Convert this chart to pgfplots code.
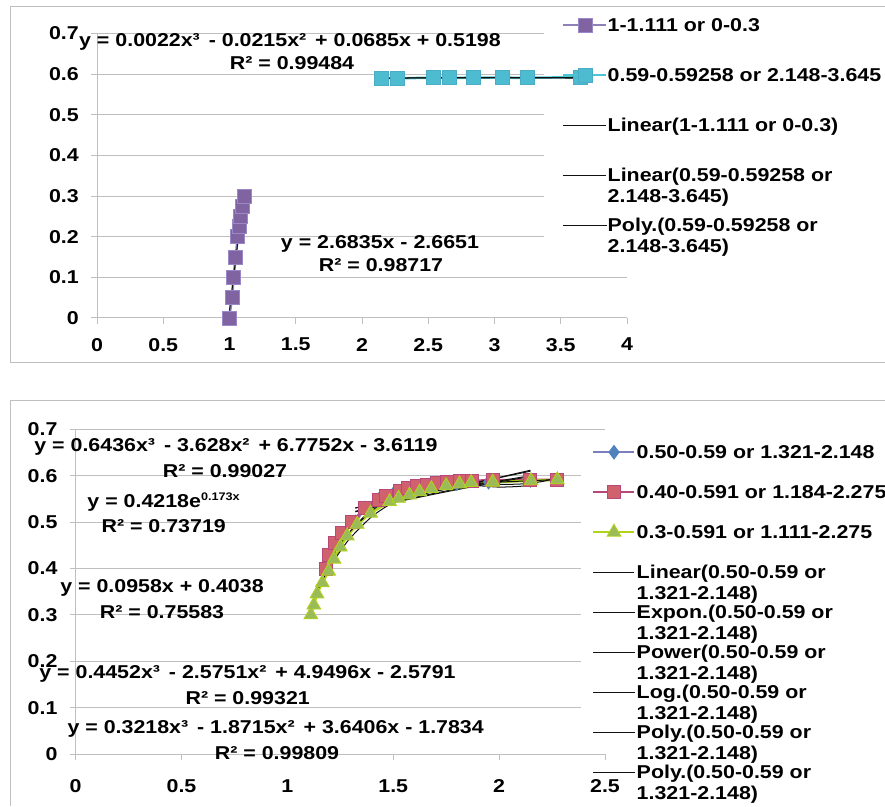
\documentclass[border=0pt]{standalone}
\usepackage{fontspec}
\setmainfont{Liberation Sans}[FakeStretch=1.15]
\usepackage{pgfplots}
\pgfplotsset{compat=1.18}
\definecolor{purpLine}{HTML}{8F80BA}
\definecolor{purpMark}{HTML}{8064A2}
\definecolor{purpEdge}{HTML}{9A88C8}
\definecolor{cyanLine}{HTML}{4BC5D2}
\definecolor{cyanMark}{HTML}{4DBBD0}
\definecolor{cyanEdge}{HTML}{4BACC6}
\definecolor{blueLine}{HTML}{7B80BC}
\definecolor{blueMark}{HTML}{4F81BD}
\definecolor{redLine}{HTML}{B8487A}
\definecolor{redMark}{HTML}{D0626E}
\definecolor{greenLine}{HTML}{B2D418}
\definecolor{greenMark}{HTML}{9BBB59}
\definecolor{gridgray}{HTML}{BFBFBF}
\definecolor{trend}{HTML}{111111}
\newcommand{\bigfont}{\fontsize{18.6}{21}\selectfont\bfseries}
\newcommand{\sqr}{²\kern3pt}
\newcommand{\cub}{³\kern3pt}
\tikzset{gl/.style={gridgray, line width=1pt}}
\pgfplotsset{
  excelaxis/.style={
    scale only axis, anchor=south west,
    axis x line*=bottom, axis y line*=left,
    axis line style={gridgray, line width=1pt},
    tick align=outside, major tick length=6pt,
    tick style={gridgray, line width=1pt},
    /pgf/number format/assume math mode=true,
    tick label style={font=\bigfont},
    ymin=0, ymax=0.7,
    ytick={0,0.1,0.2,0.3,0.4,0.5,0.6,0.7},
    yticklabel style={inner sep=0pt, xshift=-12pt},
    xticklabel style={inner sep=0pt, yshift=-14pt},
    legend cell align=left,
    legend style={draw=none, fill=none, anchor=north west, inner sep=0pt,
      row sep=0pt, font=\bigfont},
  },
  trendline/.style={trend, line width=1pt, no markers},
}
\begin{document}
\begin{tikzpicture}[font=\bigfont]
\useasboundingbox (0,0) rectangle (885pt,806pt);
\draw[gridgray, line width=1pt] (885pt,799pt) -- (10pt,799pt) -- (10pt,443pt) -- (885pt,443pt);
\draw[gridgray, line width=1pt] (885pt,405pt) -- (10pt,405pt) -- (10pt,0pt);

% ---------------- top chart ----------------
\begin{axis}[excelaxis,
  at={(97pt,488pt)}, width=530pt, height=284.5pt,
  xmin=0, xmax=4, xtick={0,0.5,1,1.5,2,2.5,3,3.5,4},
  legend style={at={(0.8774,1.1178)}, column sep=0pt,
    nodes={inner sep=0pt, text height=31.7pt, text depth=18.3pt}},
  legend image code/.code={\draw[mark repeat=2,mark phase=2,#1] plot coordinates {(0pt,0pt) (21.5pt,0pt) (43pt,0pt)};},
]
\draw[gl] (axis cs:0,0.1) -- (axis cs:4,0.1);
\draw[gl] (axis cs:0,0.2) -- (axis cs:3.377,0.2);
\draw[gl] (axis cs:0,0.3) -- (axis cs:3.377,0.3);
\draw[gl] (axis cs:0,0.4) -- (axis cs:3.377,0.4);
\draw[gl] (axis cs:0,0.5) -- (axis cs:3.377,0.5);
\draw[gl] (axis cs:0,0.6) -- (axis cs:3.377,0.6);
\draw[gl] (axis cs:0,0.7) -- (axis cs:3.377,0.7);
\addplot[purpLine, line width=2.5pt, mark=square*, mark size=7pt,
  mark options={fill=purpMark, draw=purpEdge, line width=0.8pt}] coordinates {
  (0.996,0) (1.02,0.05) (1.03,0.1) (1.047,0.15) (1.062,0.2) (1.072,0.225) (1.085,0.25) (1.1,0.275) (1.111,0.3)};
\addlegendentry{1-1.111 or 0-0.3}
\addplot[cyanLine, line width=2.5pt, mark=square*, mark size=7pt,
  mark options={fill=cyanMark, draw=cyanEdge, line width=0.8pt}] coordinates {
  (2.148,0.59) (2.27,0.5902) (2.54,0.5908) (2.66,0.591) (2.84,0.5912) (3.06,0.5912) (3.25,0.591) (3.645,0.59258)};
\addlegendentry{0.59-0.59258 or 2.148-3.645}
\addplot[trendline] coordinates {(1.0,0.0184) (1.111,0.3163)};
\addlegendentry{Linear(1-1.111 or 0-0.3)}
\addplot[trendline] coordinates {(2.148,0.5903) (3.645,0.5918)};
\addlegendentry{\begin{tabular}[t]{@{}l@{}}Linear(0.59-0.59258 or\\2.148-3.645)\end{tabular}}
\addplot[trendline, smooth] coordinates {(2.148,0.5895) (2.5,0.5911) (3.0,0.5912) (3.3,0.5909) (3.645,0.5903)};
\addlegendentry{\begin{tabular}[t]{@{}l@{}}Poly.(0.59-0.59258 or\\2.148-3.645)\end{tabular}}
\end{axis}

% ---------------- bottom chart ----------------
\begin{axis}[excelaxis,
  at={(75.6pt,52pt)}, width=529.4pt, height=324.8pt,
  xmin=0, xmax=2.5, xtick={0,0.5,1,1.5,2,2.5},
  xticklabel style={yshift=-5pt},
  legend style={at={(0.9755,0.9914)}, column sep=1pt,
    nodes={inner sep=0pt, text height=26.7pt, text depth=13.3pt}},
  legend image code/.code={\draw[mark repeat=2,mark phase=2,#1] plot coordinates {(0pt,0pt) (20.5pt,0pt) (41pt,0pt)};},
]
\draw[gl] (axis cs:0,0.7) -- (axis cs:2.5,0.7);
\draw[gl] (axis cs:0,0.1) -- (axis cs:2.387,0.1);
\draw[gl] (axis cs:0,0.2) -- (axis cs:2.387,0.2);
\draw[gl] (axis cs:0,0.3) -- (axis cs:2.387,0.3);
\draw[gl] (axis cs:0,0.4) -- (axis cs:2.387,0.4);
\draw[gl] (axis cs:0,0.5) -- (axis cs:2.387,0.5);
\draw[gl] (axis cs:0,0.6) -- (axis cs:2.387,0.6);
\addplot[blueLine, line width=2.5pt, mark=diamond*, mark size=5.5pt,
  mark options={fill=blueMark, draw=blueMark}] coordinates {
  (1.321,0.50) (1.366,0.53) (1.43,0.548) (1.5,0.56) (1.6,0.57) (1.7,0.578) (1.8,0.583) (1.95,0.586) (2.148,0.59)};
\addlegendentry{0.50-0.59 or 1.321-2.148}
\addplot[redLine, line width=2.5pt, mark=square*, mark size=6.5pt,
  mark options={fill=redMark, draw=redLine, line width=0.8pt}] coordinates {
  (1.184,0.40) (1.198,0.43) (1.225,0.454) (1.256,0.476) (1.304,0.50) (1.366,0.53) (1.43,0.548) (1.467,0.557)
  (1.532,0.568) (1.571,0.573) (1.61,0.577) (1.658,0.581) (1.705,0.584) (1.752,0.586) (1.815,0.588)
  (1.87,0.589) (1.972,0.59) (2.145,0.591) (2.275,0.591)};
\addlegendentry{0.40-0.591 or 1.184-2.275}
\addplot[greenLine, line width=2.5pt, mark=triangle*, mark size=8pt,
  mark options={fill=greenMark, draw=greenLine, line width=0.8pt}] coordinates {
  (1.111,0.30) (1.125,0.321) (1.14,0.345) (1.165,0.369) (1.195,0.394) (1.22,0.42) (1.25,0.446) (1.283,0.47)
  (1.33,0.495) (1.393,0.519) (1.483,0.544) (1.525,0.551) (1.577,0.558) (1.625,0.565) (1.68,0.572)
  (1.75,0.578) (1.813,0.582) (1.868,0.585) (1.97,0.586) (2.151,0.589) (2.275,0.591)};
\addlegendentry{0.3-0.591 or 1.111-2.275}
\addplot[trendline] coordinates {(1.321,0.5304) (2.148,0.6096)};
\addlegendentry{\begin{tabular}[t]{@{}l@{}}Linear(0.50-0.59 or\\1.321-2.148)\end{tabular}}
\addplot[trendline, smooth] coordinates {(1.321,0.5301) (1.5,0.5468) (1.75,0.5710) (2.0,0.5962) (2.148,0.6116)};
\addlegendentry{\begin{tabular}[t]{@{}l@{}}Expon.(0.50-0.59 or\\1.321-2.148)\end{tabular}}
\addplot[trendline, smooth] coordinates {(1.321,0.523) (1.45,0.537) (1.6,0.5513) (1.8,0.5696) (2.0,0.5864) (2.148,0.598)};
\addlegendentry{\begin{tabular}[t]{@{}l@{}}Power(0.50-0.59 or\\1.321-2.148)\end{tabular}}
\addplot[trendline, smooth] coordinates {(1.321,0.522) (1.45,0.537) (1.6,0.5527) (1.8,0.5715) (2.0,0.5884) (2.148,0.5998)};
\addlegendentry{\begin{tabular}[t]{@{}l@{}}Log.(0.50-0.59 or\\1.321-2.148)\end{tabular}}
\addplot[trendline, smooth] coordinates {(1.321,0.4908) (1.35,0.5061) (1.4,0.5286) (1.45,0.5463) (1.5,0.5601) (1.6,0.5769) (1.7,0.5830) (1.8,0.5823) (1.9,0.5784) (2.0,0.5753) (2.1,0.5769) (2.148,0.5804)};
\addlegendentry{\begin{tabular}[t]{@{}l@{}}Poly.(0.50-0.59 or\\1.321-2.148)\end{tabular}}
\addplot[trendline, smooth] coordinates {(1.184,0.4102) (1.22,0.4350) (1.25,0.4538) (1.3,0.4816) (1.4,0.5247) (1.5,0.5539) (1.6,0.5715) (1.7,0.5805) (1.8,0.5833) (1.9,0.5826) (2.0,0.5813) (2.1,0.5819) (2.2,0.5870) (2.275,0.5954)};
\addlegendentry{\begin{tabular}[t]{@{}l@{}}Poly.(0.50-0.59 or\\1.321-2.148)\end{tabular}}
\addplot[trendline, smooth, forget plot] coordinates {(1.111,0.318) (1.15,0.36) (1.2,0.403) (1.25,0.437) (1.3,0.467) (1.4,0.512) (1.5,0.542) (1.6,0.561) (1.7,0.573) (1.8,0.58) (1.9,0.584) (2.0,0.586) (2.1,0.588) (2.2,0.59) (2.275,0.592)};
\end{axis}

% ---------------- trendline equations ----------------
\node at (290pt,764pt) {y = 0.0022x\cub{} - 0.0215x\sqr{} + 0.0685x + 0.5198};
\node at (292pt,743.3pt) {R² = 0.99484};
\node at (380pt,562pt) {y = 2.6835x - 2.6651};
\node at (381pt,541pt) {R² = 0.98717};

\node at (236pt,359.3pt) {y = 0.6436x\cub{} - 3.628x\sqr{} + 6.7752x - 3.6119};
\node at (225pt,335pt) {R² = 0.99027};
\node at (163.6pt,303.7pt) {y = 0.4218e\raisebox{7pt}{\fontsize{11}{11}\selectfont 0.173x}};
\node at (163.7pt,280.3pt) {R² = 0.73719};
\node at (162pt,218pt) {y = 0.0958x + 0.4038};
\node at (162pt,193.7pt) {R² = 0.75583};
\node at (247.5pt,132pt) {y = 0.4452x\cub{} - 2.5751x\sqr{} + 4.9496x - 2.5791};
\node at (247.7pt,108.3pt) {R² = 0.99321};
\node at (275.7pt,76.7pt) {y = 0.3218x\cub{} - 1.8715x\sqr{} + 3.6406x - 1.7834};
\node at (277pt,52.7pt) {R² = 0.99809};
\end{tikzpicture}
\end{document}
